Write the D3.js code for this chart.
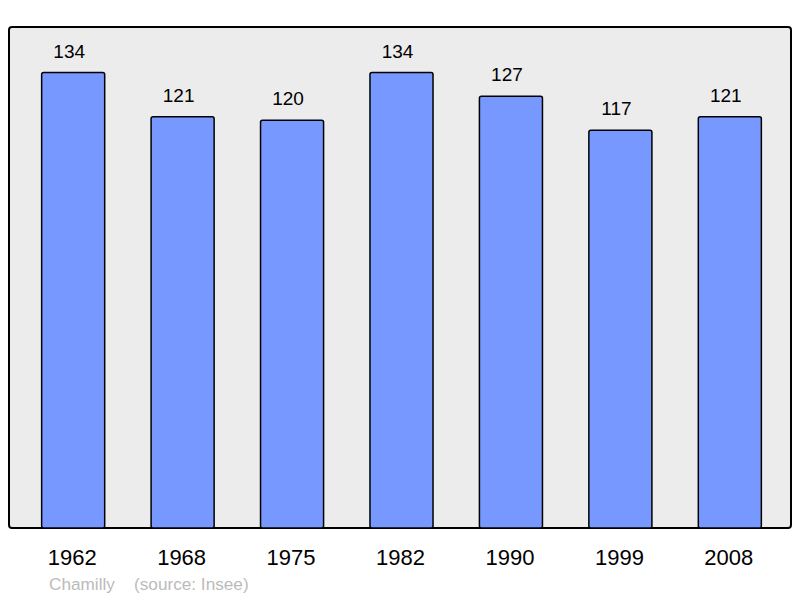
<!DOCTYPE html>
<meta charset="utf-8">
<style>
  body { margin: 0; background: #fff; }
  text { font-family: "Liberation Sans", Arial, sans-serif; }
</style>
<svg width="800" height="598"></svg>
<script src="https://d3js.org/d3.v7.min.js"></script>
<script>

var years = ["1962", "1968", "1975", "1982", "1990", "1999", "2008"],
    population = [134, 121, 120, 134, 127, 117, 121];

var commune = "Chamilly",
    source = "(source: Insee)";

var svg = d3.select("svg"),
    frameLeft = 9, frameRight = 791, frameTop = 27, frameBottom = 528;

// frame
svg.append("rect")
    .attr("x", frameLeft)
    .attr("y", frameTop)
    .attr("width", frameRight - frameLeft)
    .attr("height", frameBottom - frameTop)
    .attr("rx", 3)
    .attr("fill", "#ececec")
    .attr("stroke", "#000")
    .attr("stroke-width", 2);

var x = d3.scaleBand()
    .domain(years)
    .range([11, 792])
    .paddingInner(0.424)
    .paddingOuter(0.28);

var y = d3.scaleLinear()
    .domain([0, d3.max(population) * 1.1])
    .range([frameBottom, frameTop]);

var bars = svg.selectAll("g.bar")
  .data(years.map(function(d, i) { return { year: d, value: population[i] }; }))
  .enter().append("g")
    .attr("class", "bar");

bars.append("rect")
    .attr("x", function(d) { return x(d.year); })
    .attr("y", function(d) { return y(d.value); })
    .attr("width", x.bandwidth())
    .attr("height", function(d) { return frameBottom - y(d.value); })
    .attr("rx", 2)
    .attr("fill", "#7799ff")
    .attr("stroke", "#000")
    .attr("stroke-width", 1.5);

bars.append("text")
    .attr("x", function(d) { return x(d.year) + x.bandwidth() / 2 - 4; })
    .attr("y", function(d) { return y(d.value) - 15; })
    .attr("text-anchor", "middle")
    .attr("font-size", 19)
    .text(function(d) { return d.value; });

// year axis labels
svg.append("g")
    .attr("transform", "translate(-1," + frameBottom + ")")
    .call(d3.axisBottom(x).tickSize(0).tickPadding(0))
    .call(function(g) {
      g.select(".domain").remove();
      g.selectAll("text")
        .attr("dy", 0)
        .attr("y", 37)
        .attr("font-size", 22)
        .attr("font-family", "Liberation Sans, Arial, sans-serif")
        .attr("fill", "#000");
    });

// caption
svg.append("text")
    .attr("x", 49)
    .attr("y", 590)
    .attr("font-size", 17.2)
    .attr("fill", "#bbb")
    .text(commune);

svg.append("text")
    .attr("x", 134)
    .attr("y", 590)
    .attr("font-size", 17.2)
    .attr("fill", "#bbb")
    .text(source);

</script>
